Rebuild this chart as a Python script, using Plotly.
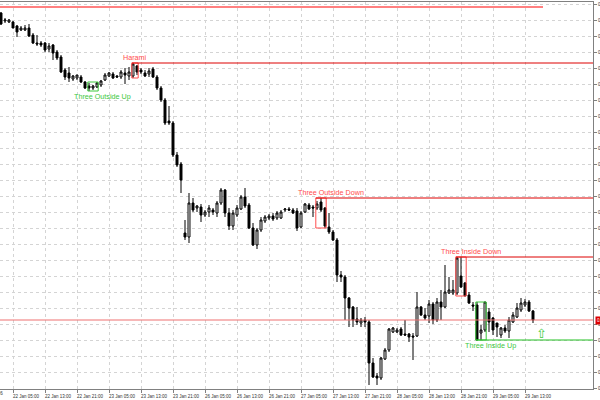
import numpy as np
import pandas as pd
import plotly.graph_objects as go

# H1 bars, 22 Jan 02:00 .. 29 Jan 15:00 (weekend skipped)
bar_times = pd.date_range("2026-01-22 02:00", "2026-01-23 23:00", freq="h").append(
    pd.date_range("2026-01-26 00:00", "2026-01-29 15:00", freq="h")
)

open_ = [
    0.8791, 0.8783, 0.8782, 0.8782, 0.8778, 0.8774, 0.8774, 0.8776, 0.8769, 0.8761,
    0.8761, 0.8761, 0.8755, 0.8759, 0.8752, 0.8747, 0.8734, 0.8731, 0.8725, 0.8726,
    0.8727, 0.8722, 0.8718, 0.8716, 0.8717, 0.8719, 0.8724, 0.8728, 0.8730, 0.8728,
    0.8727, 0.8731, 0.8728, 0.8728, 0.8738, 0.8734, 0.8731, 0.8730, 0.8735, 0.8727,
    0.8716, 0.8704, 0.8683, 0.8681, 0.8649, 0.8640, 0.8571, 0.8567, 0.8601, 0.8596,
    0.8597, 0.8589, 0.8592, 0.8594, 0.8591, 0.8601, 0.8614, 0.8591, 0.8578, 0.8589,
    0.8595, 0.8607, 0.8599, 0.8576, 0.8559, 0.8574, 0.8583, 0.8586, 0.8588, 0.8586,
    0.8586, 0.8594, 0.8595, 0.8594, 0.8593, 0.8577, 0.8592, 0.8599, 0.8597, 0.8596,
    0.8602, 0.8596, 0.8577, 0.8572, 0.8564, 0.8529, 0.8527, 0.8506, 0.8497, 0.8485,
    0.8481, 0.8484, 0.8482, 0.8441, 0.8428, 0.8426, 0.8445, 0.8454, 0.8472, 0.8472,
    0.8475, 0.8470, 0.8470, 0.8468, 0.8468, 0.8497, 0.8489, 0.8488, 0.8500, 0.8484,
    0.8502, 0.8497, 0.8511, 0.8511, 0.8511, 0.8528, 0.8521, 0.8509, 0.8499, 0.8499,
    0.8471, 0.8474, 0.8492, 0.8486, 0.8481, 0.8469, 0.8476, 0.8473, 0.8482, 0.8487,
    0.8494, 0.8499, 0.8502, 0.8493,
]
high = [
    0.8792, 0.8786, 0.8785, 0.8783, 0.8779, 0.8778, 0.8779, 0.8780, 0.8771, 0.8769,
    0.8763, 0.8762, 0.8761, 0.8760, 0.8754, 0.8749, 0.8736, 0.8737, 0.8729, 0.8729,
    0.8729, 0.8723, 0.8721, 0.8719, 0.8722, 0.8724, 0.8731, 0.8732, 0.8732, 0.8729,
    0.8734, 0.8736, 0.8737, 0.8741, 0.8739, 0.8736, 0.8734, 0.8736, 0.8737, 0.8729,
    0.8718, 0.8706, 0.8698, 0.8683, 0.8652, 0.8642, 0.8584, 0.8611, 0.8606, 0.8599,
    0.8600, 0.8594, 0.8599, 0.8596, 0.8603, 0.8616, 0.8615, 0.8596, 0.8594, 0.8599,
    0.8609, 0.8616, 0.8601, 0.8581, 0.8576, 0.8587, 0.8589, 0.8590, 0.8591, 0.8593,
    0.8594, 0.8596, 0.8597, 0.8596, 0.8596, 0.8593, 0.8601, 0.8601, 0.8599, 0.8603,
    0.8606, 0.8597, 0.8591, 0.8574, 0.8566, 0.8533, 0.8529, 0.8507, 0.8498, 0.8497,
    0.8486, 0.8487, 0.8484, 0.8446, 0.8431, 0.8447, 0.8456, 0.8476, 0.8477, 0.8476,
    0.8477, 0.8484, 0.8471, 0.8471, 0.8512, 0.8498, 0.8496, 0.8504, 0.8502, 0.8506,
    0.8514, 0.8539, 0.8527, 0.8524, 0.8547, 0.8547, 0.8522, 0.8512, 0.8502, 0.8502,
    0.8479, 0.8502, 0.8496, 0.8487, 0.8481, 0.8477, 0.8479, 0.8487, 0.8492, 0.8501,
    0.8506, 0.8505, 0.8504, 0.8494,
]
low = [
    0.8779, 0.8781, 0.8781, 0.8776, 0.8767, 0.8773, 0.8773, 0.8767, 0.8760, 0.8758,
    0.8757, 0.8752, 0.8752, 0.8744, 0.8744, 0.8731, 0.8724, 0.8722, 0.8723, 0.8724,
    0.8721, 0.8715, 0.8713, 0.8714, 0.8716, 0.8717, 0.8723, 0.8727, 0.8725, 0.8726,
    0.8725, 0.8720, 0.8724, 0.8726, 0.8729, 0.8730, 0.8727, 0.8727, 0.8726, 0.8714,
    0.8702, 0.8679, 0.8679, 0.8647, 0.8637, 0.8611, 0.8564, 0.8561, 0.8592, 0.8592,
    0.8582, 0.8587, 0.8587, 0.8589, 0.8587, 0.8599, 0.8587, 0.8574, 0.8574, 0.8587,
    0.8594, 0.8596, 0.8575, 0.8558, 0.8555, 0.8572, 0.8581, 0.8584, 0.8583, 0.8584,
    0.8585, 0.8592, 0.8593, 0.8590, 0.8573, 0.8576, 0.8591, 0.8594, 0.8587, 0.8594,
    0.8592, 0.8576, 0.8570, 0.8563, 0.8522, 0.8522, 0.8484, 0.8477, 0.8477, 0.8479,
    0.8477, 0.8477, 0.8419, 0.8426, 0.8419, 0.8424, 0.8444, 0.8452, 0.8471, 0.8471,
    0.8468, 0.8468, 0.8462, 0.8444, 0.8467, 0.8488, 0.8484, 0.8481, 0.8480, 0.8482,
    0.8484, 0.8496, 0.8510, 0.8509, 0.8509, 0.8516, 0.8508, 0.8500, 0.8493, 0.8464,
    0.8464, 0.8472, 0.8472, 0.8469, 0.8467, 0.8466, 0.8471, 0.8466, 0.8481, 0.8486,
    0.8492, 0.8497, 0.8492, 0.8481,
]
close = [
    0.8780, 0.8784, 0.8784, 0.8776, 0.8772, 0.8776, 0.8776, 0.8768, 0.8761, 0.8760,
    0.8759, 0.8754, 0.8758, 0.8751, 0.8746, 0.8732, 0.8727, 0.8726, 0.8728, 0.8729,
    0.8722, 0.8716, 0.8716, 0.8718, 0.8721, 0.8723, 0.8729, 0.8731, 0.8726, 0.8727,
    0.8732, 0.8729, 0.8732, 0.8740, 0.8732, 0.8732, 0.8728, 0.8733, 0.8727, 0.8716,
    0.8704, 0.8681, 0.8681, 0.8649, 0.8639, 0.8624, 0.8567, 0.8601, 0.8594, 0.8598,
    0.8589, 0.8592, 0.8596, 0.8592, 0.8601, 0.8614, 0.8591, 0.8578, 0.8591, 0.8596,
    0.8607, 0.8598, 0.8576, 0.8559, 0.8574, 0.8584, 0.8587, 0.8588, 0.8585, 0.8591,
    0.8592, 0.8595, 0.8594, 0.8591, 0.8576, 0.8591, 0.8600, 0.8595, 0.8596, 0.8600,
    0.8594, 0.8578, 0.8572, 0.8564, 0.8529, 0.8527, 0.8506, 0.8496, 0.8484, 0.8482,
    0.8484, 0.8482, 0.8441, 0.8427, 0.8426, 0.8446, 0.8454, 0.8475, 0.8476, 0.8474,
    0.8469, 0.8469, 0.8467, 0.8467, 0.8497, 0.8489, 0.8486, 0.8500, 0.8484, 0.8502,
    0.8497, 0.8512, 0.8514, 0.8514, 0.8546, 0.8517, 0.8508, 0.8501, 0.8498, 0.8464,
    0.8474, 0.8502, 0.8482, 0.8474, 0.8477, 0.8476, 0.8473, 0.8484, 0.8489, 0.8496,
    0.8501, 0.8502, 0.8493, 0.8484,
]

# detected patterns: name, first bar, last bar, bullish?, level line, label bar
pattern_names = ["Three Outside Up", "Harami", "Three Outside Down", "Three Inside Down", "Three Inside Up"]
pattern_first = [22, 33, 79, 114, 119]
pattern_last = [24, 34, 81, 116, 121]
pattern_bull = [True, False, False, False, True]
pattern_line = [False, True, True, True, True]
pattern_label_bar = [25.4, 33.6, 82.4, 117.4, 122.4]

top_level = 0.8797
top_level_end = 135.5
arrow_bar, arrow_price = 135, 0.8471

RED_BOX = "#ff4d4d"
RED_LINE = "#dd0000"
GREEN_BOX = "#3cc83c"
GREEN_LINE = "#22c022"
GRID = "#d4d4d4"
AXIS = "#808080"

x = np.arange(len(close))
x_end = 148

fig = go.Figure(
    go.Candlestick(
        x=x,
        open=open_,
        high=high,
        low=low,
        close=close,
        increasing=dict(line=dict(color="black", width=1), fillcolor="white"),
        decreasing=dict(line=dict(color="black", width=1), fillcolor="black"),
        whiskerwidth=0,
        hoverinfo="skip",
    )
)

# pattern boxes, labels and level lines
for name, a, b, bull, has_line, lx in zip(
    pattern_names, pattern_first, pattern_last, pattern_bull, pattern_line, pattern_label_bar
):
    top = max(high[a : b + 1])
    bot = min(low[a : b + 1])
    box_col = GREEN_BOX if bull else RED_BOX
    fig.add_shape(
        type="rect", x0=a - 0.3, x1=b + 0.3, y0=bot, y1=top,
        line=dict(color=box_col, width=1), fillcolor="rgba(0,0,0,0)", layer="above",
    )
    if has_line:
        lvl = bot if bull else top
        fig.add_shape(
            type="line", x0=a - 0.3, x1=x_end, y0=lvl, y1=lvl,
            line=dict(color=GREEN_LINE if bull else RED_LINE, width=1), layer="above",
        )
    fig.add_annotation(
        x=lx, y=bot if bull else top, text=name, showarrow=False,
        yanchor="top" if bull else "bottom", borderpad=0,
        font=dict(family="Liberation Sans, Arial", size=7.2, color=box_col),
    )

# upper level and bid line
fig.add_shape(
    type="line", x0=-0.25, x1=top_level_end, y0=top_level, y1=top_level,
    line=dict(color="#ff8080", width=2), layer="above",
)
fig.add_shape(
    type="line", xref="paper", x0=0, x1=1, y0=close[-1], y1=close[-1],
    line=dict(color="#ee7070", width=1), layer="above",
)
fig.add_annotation(
    xref="paper", x=1, xanchor="left", xshift=2, y=close[-1], text=f"{close[-1]:.5f}",
    showarrow=False, bgcolor="#dd0000", borderpad=1,
    font=dict(family="Liberation Sans, Arial", size=4.5, color="white"),
)
fig.add_annotation(
    x=arrow_bar, y=arrow_price, text="⇧", showarrow=False,
    font=dict(family="DejaVu Sans", size=13, color="#44cc44"),
)

tick_idx = [i for i, t in enumerate(bar_times) if t.hour in (5, 13, 21)]
tick_text = [f"{bar_times[i].day} {bar_times[i]:%b %H:%M}" for i in tick_idx]

fig.add_annotation(
    xref="paper", yref="paper", x=5 / 593, y=-0.012, xanchor="right", yanchor="middle",
    text=f"{bar_times[0].day} {bar_times[0]:%b %Y}", showarrow=False,
    font=dict(family="Liberation Sans, Arial", size=4.5, color="#333"),
)

fig.update_layout(
    width=600,
    height=400,
    margin=dict(l=0, r=7, t=2, b=11),
    paper_bgcolor="white",
    plot_bgcolor="white",
    showlegend=False,
    font=dict(family="Liberation Sans, Arial", size=4.5, color="#333"),
)
fig.update_xaxes(
    range=[-0.25, x_end],
    tickvals=tick_idx,
    ticktext=tick_text,
    tickangle=0,
    ticks="outside",
    ticklen=3,
    tickcolor=AXIS,
    ticklabelshift=13,
    showgrid=True,
    gridcolor=GRID,
    griddash="dot",
    showline=True,
    linecolor=AXIS,
    mirror=True,
    zeroline=False,
    rangeslider_visible=False,
    automargin=False,
)
fig.update_yaxes(
    side="right",
    range=[0.8415, 0.8802],
    tick0=0.88,
    dtick=0.0016,
    tickformat=".5f",
    ticks="outside",
    ticklen=3,
    tickcolor=AXIS,
    showgrid=True,
    gridcolor=GRID,
    griddash="dot",
    showline=True,
    linecolor=AXIS,
    zeroline=False,
    automargin=False,
)

fig.write_html(
    "out.html",
    config={"displayModeBar": False},
    post_script="document.body.style.margin = '0';",
)
